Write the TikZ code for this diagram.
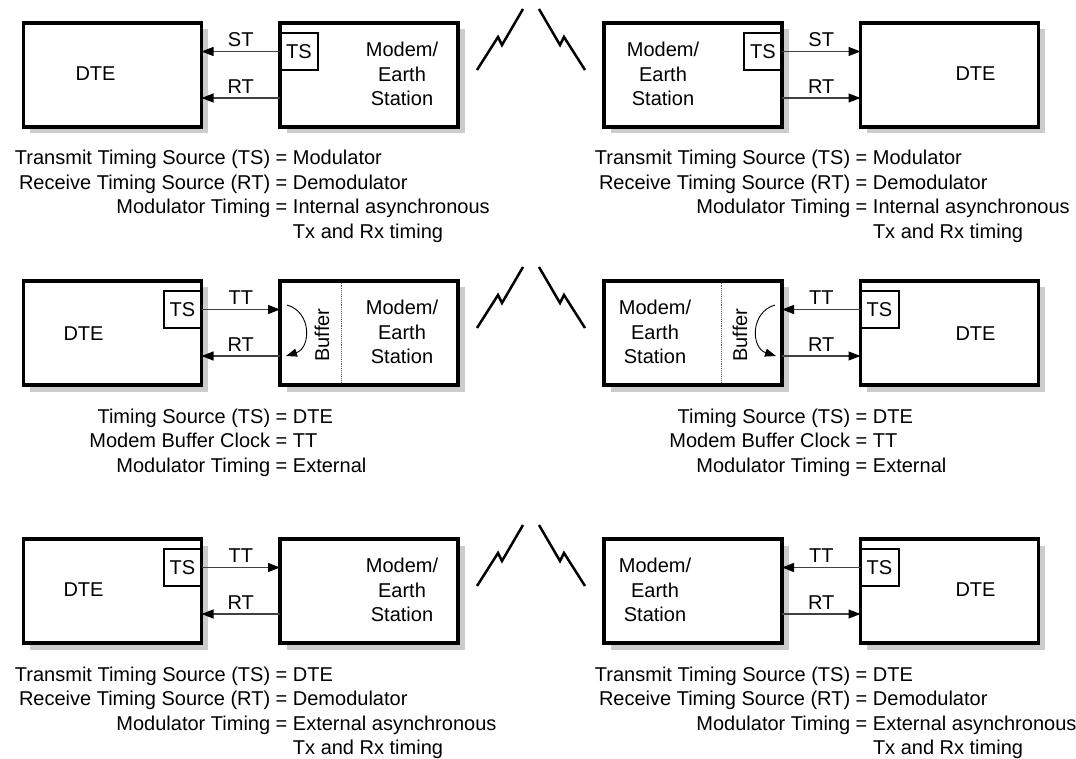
\documentclass[tikz,border=0pt]{standalone}
\usepackage{fontspec}
\setmainfont{Liberation Sans}
\usepackage{array}
\usetikzlibrary{arrows.meta, positioning, calc}
\newcolumntype{R}{>{\raggedleft\arraybackslash}p{262pt}}

\begin{document}
\begin{tikzpicture}[
    x=1pt, y=1pt,
    font=\fontsize{20}{24.5}\selectfont,
    unitbox/.style={rectangle, draw, line width=3.3pt, fill=white, minimum width=178pt, minimum height=104pt, inner sep=0pt, outer sep=0pt, preaction={fill=black!20, transform canvas={xshift=6.5pt, yshift=-6.5pt}}},
    tsbox/.style={rectangle, draw, line width=2pt, minimum width=38pt, minimum height=37pt, inner sep=0pt, outer sep=0pt},
    sig/.style={-{Triangle[length=12pt, width=9pt, black]}, line width=1.1pt, draw=black!75},
    sigtxt/.style={midway, above=4pt, inner sep=0pt},
    loopback/.style={-{Triangle[length=11pt, width=8pt]}, line width=0.9pt},
    buf/.style={densely dotted, line width=0.9pt, draw=black!65, shorten <=1.7pt, shorten >=1.7pt},
    bolt/.style={line width=2.5pt, line join=miter},
    defs/.style={anchor=base west, inner sep=0pt},
    bolts/.pic={
        \draw[bolt] (-54,-47) -- (-33,-14) -- (-29,-22) -- (-8,14);
        \draw[bolt] (54,-47) -- (33,-14) -- (29,-22) -- (8,14);
    }
]
\useasboundingbox (0,0) rectangle (1076,-759);

% Row 1: modulator as timing source
\node[unitbox] (dte1) at (112.5,-75) {};
\node[unitbox] (mod1) at (369,-75) {};
\node[tsbox, anchor=north west] (ts1) at ($(mod1.north west)+(0,-10)$) {TS};
\node (dte1txt) at ($(dte1.center)+(-17,1)$) {DTE};
\node[align=center] (mod1txt) at ($(mod1.center)+(33,1)$) {Modem/\\Earth\\Station};
\draw[sig] (ts1.west) -- (ts1.west -| dte1.east) node[sigtxt] (st1) {ST};
\draw[sig] ($(mod1.south west)+(0,29)$) -- ($(dte1.south east)+(0,29)$) node[sigtxt] (rt1) {RT};

\node[unitbox] (mod1r) at (693,-75) {};
\node[unitbox] (dte1r) at (949.5,-75) {};
\node[tsbox, anchor=north east] (ts1r) at ($(mod1r.north east)+(0,-10)$) {TS};
\node (dte1rtxt) at ($(dte1r.center)+(26,1)$) {DTE};
\node[align=center] (mod1rtxt) at ($(mod1r.center)+(-30,1)$) {Modem/\\Earth\\Station};
\draw[sig] (ts1r.east) -- (ts1r.east -| dte1r.west) node[sigtxt] (st1r) {ST};
\draw[sig] ($(mod1r.south east)+(0,29)$) -- ($(dte1r.south west)+(0,29)$) node[sigtxt] (rt1r) {RT};

\pic at (531,-23) {bolts};

\node[defs] (defs1) at (8,-165) {\begin{tabular}[t]{@{}R@{~}l@{~}l@{}}
Transmit Timing Source (TS) & = & Modulator\\
Receive Timing Source (RT) & = & Demodulator\\
Modulator Timing & = & Internal asynchronous\\
 & & Tx and Rx timing\end{tabular}};
\node[defs] (defs1r) at (588,-165) {\begin{tabular}[t]{@{}R@{~}l@{~}l@{}}
Transmit Timing Source (TS) & = & Modulator\\
Receive Timing Source (RT) & = & Demodulator\\
Modulator Timing & = & Internal asynchronous\\
 & & Tx and Rx timing\end{tabular}};

% Row 2: DTE clock into modem buffer
\node[unitbox] (dte2) at (112.5,-333) {};
\node[unitbox] (mod2) at (369,-333) {};
\node[tsbox, anchor=north east] (ts2) at ($(dte2.north east)+(0,-10)$) {TS};
\node (dte2txt) at ($(dte2.center)+(-29,-1)$) {DTE};
\node[align=center] (mod2txt) at ($(mod2.center)+(33,1)$) {Modem/\\Earth\\Station};
\node[rotate=90] (buf2) at ($(mod2.west)+(42,-2)$) {Buffer};
\draw[buf] ($(mod2.north west)+(61,0)$) -- ($(mod2.south west)+(61,0)$);
\draw[sig] (ts2.east) -- (ts2.east -| mod2.west) node[sigtxt] (tt2) {TT};
\draw[sig] ($(mod2.south west)+(0,29)$) -- ($(dte2.south east)+(0,29)$) node[sigtxt] (rt2) {RT};
\draw[loopback] ($(mod2.north west)+(7,-24)$) .. controls ($(mod2.north west)+(32,-31)$) and ($(mod2.north west)+(31,-67)$) .. ($(mod2.north west)+(6,-75)$);

\node[unitbox] (mod2r) at (693,-333) {};
\node[unitbox] (dte2r) at (949.5,-333) {};
\node[tsbox, anchor=north west] (ts2r) at ($(dte2r.north west)+(0,-10)$) {TS};
\node (dte2rtxt) at ($(dte2r.center)+(26,-1)$) {DTE};
\node[align=center] (mod2rtxt) at ($(mod2r.center)+(-38,1)$) {Modem/\\Earth\\Station};
\node[rotate=90] (buf2r) at ($(mod2r.east)+(-42,-2)$) {Buffer};
\draw[buf] ($(mod2r.north east)+(-61,0)$) -- ($(mod2r.south east)+(-61,0)$);
\draw[sig] (ts2r.west) -- (ts2r.west -| mod2r.east) node[sigtxt] (tt2r) {TT};
\draw[sig] ($(mod2r.south east)+(0,29)$) -- ($(dte2r.south west)+(0,29)$) node[sigtxt] (rt2r) {RT};
\draw[loopback] ($(mod2r.north east)+(-7,-24)$) .. controls ($(mod2r.north east)+(-32,-31)$) and ($(mod2r.north east)+(-31,-67)$) .. ($(mod2r.north east)+(-6,-75)$);

\pic at (531,-281) {bolts};

\node[defs] (defs2) at (8,-423) {\begin{tabular}[t]{@{}R@{~}l@{~}l@{}}
Timing Source (TS) & = & DTE\\
Modem Buffer Clock & = & TT\\
Modulator Timing & = & External\end{tabular}};
\node[defs] (defs2r) at (588,-423) {\begin{tabular}[t]{@{}R@{~}l@{~}l@{}}
Timing Source (TS) & = & DTE\\
Modem Buffer Clock & = & TT\\
Modulator Timing & = & External\end{tabular}};

% Row 3: DTE as transmit timing source
\node[unitbox] (dte3) at (112.5,-591) {};
\node[unitbox] (mod3) at (369,-591) {};
\node[tsbox, anchor=north east] (ts3) at ($(dte3.north east)+(0,-10)$) {TS};
\node (dte3txt) at ($(dte3.center)+(-29,1)$) {DTE};
\node[align=center] (mod3txt) at ($(mod3.center)+(33,1)$) {Modem/\\Earth\\Station};
\draw[sig] (ts3.east) -- (ts3.east -| mod3.west) node[sigtxt] (tt3) {TT};
\draw[sig] ($(mod3.south west)+(0,29)$) -- ($(dte3.south east)+(0,29)$) node[sigtxt] (rt3) {RT};

\node[unitbox] (mod3r) at (693,-591) {};
\node[unitbox] (dte3r) at (949.5,-591) {};
\node[tsbox, anchor=north west] (ts3r) at ($(dte3r.north west)+(0,-10)$) {TS};
\node (dte3rtxt) at ($(dte3r.center)+(26,1)$) {DTE};
\node[align=center] (mod3rtxt) at ($(mod3r.center)+(-38,1)$) {Modem/\\Earth\\Station};
\draw[sig] (ts3r.west) -- (ts3r.west -| mod3r.east) node[sigtxt] (tt3r) {TT};
\draw[sig] ($(mod3r.south east)+(0,29)$) -- ($(dte3r.south west)+(0,29)$) node[sigtxt] (rt3r) {RT};

\pic at (531,-539) {bolts};

\node[defs] (defs3) at (8,-681) {\begin{tabular}[t]{@{}R@{~}l@{~}l@{}}
Transmit Timing Source (TS) & = & DTE\\
Receive Timing Source (RT) & = & Demodulator\\
Modulator Timing & = & External asynchronous\\
 & & Tx and Rx timing\end{tabular}};
\node[defs] (defs3r) at (588,-681) {\begin{tabular}[t]{@{}R@{~}l@{~}l@{}}
Transmit Timing Source (TS) & = & DTE\\
Receive Timing Source (RT) & = & Demodulator\\
Modulator Timing & = & External asynchronous\\
 & & Tx and Rx timing\end{tabular}};

\end{tikzpicture}
\end{document}
